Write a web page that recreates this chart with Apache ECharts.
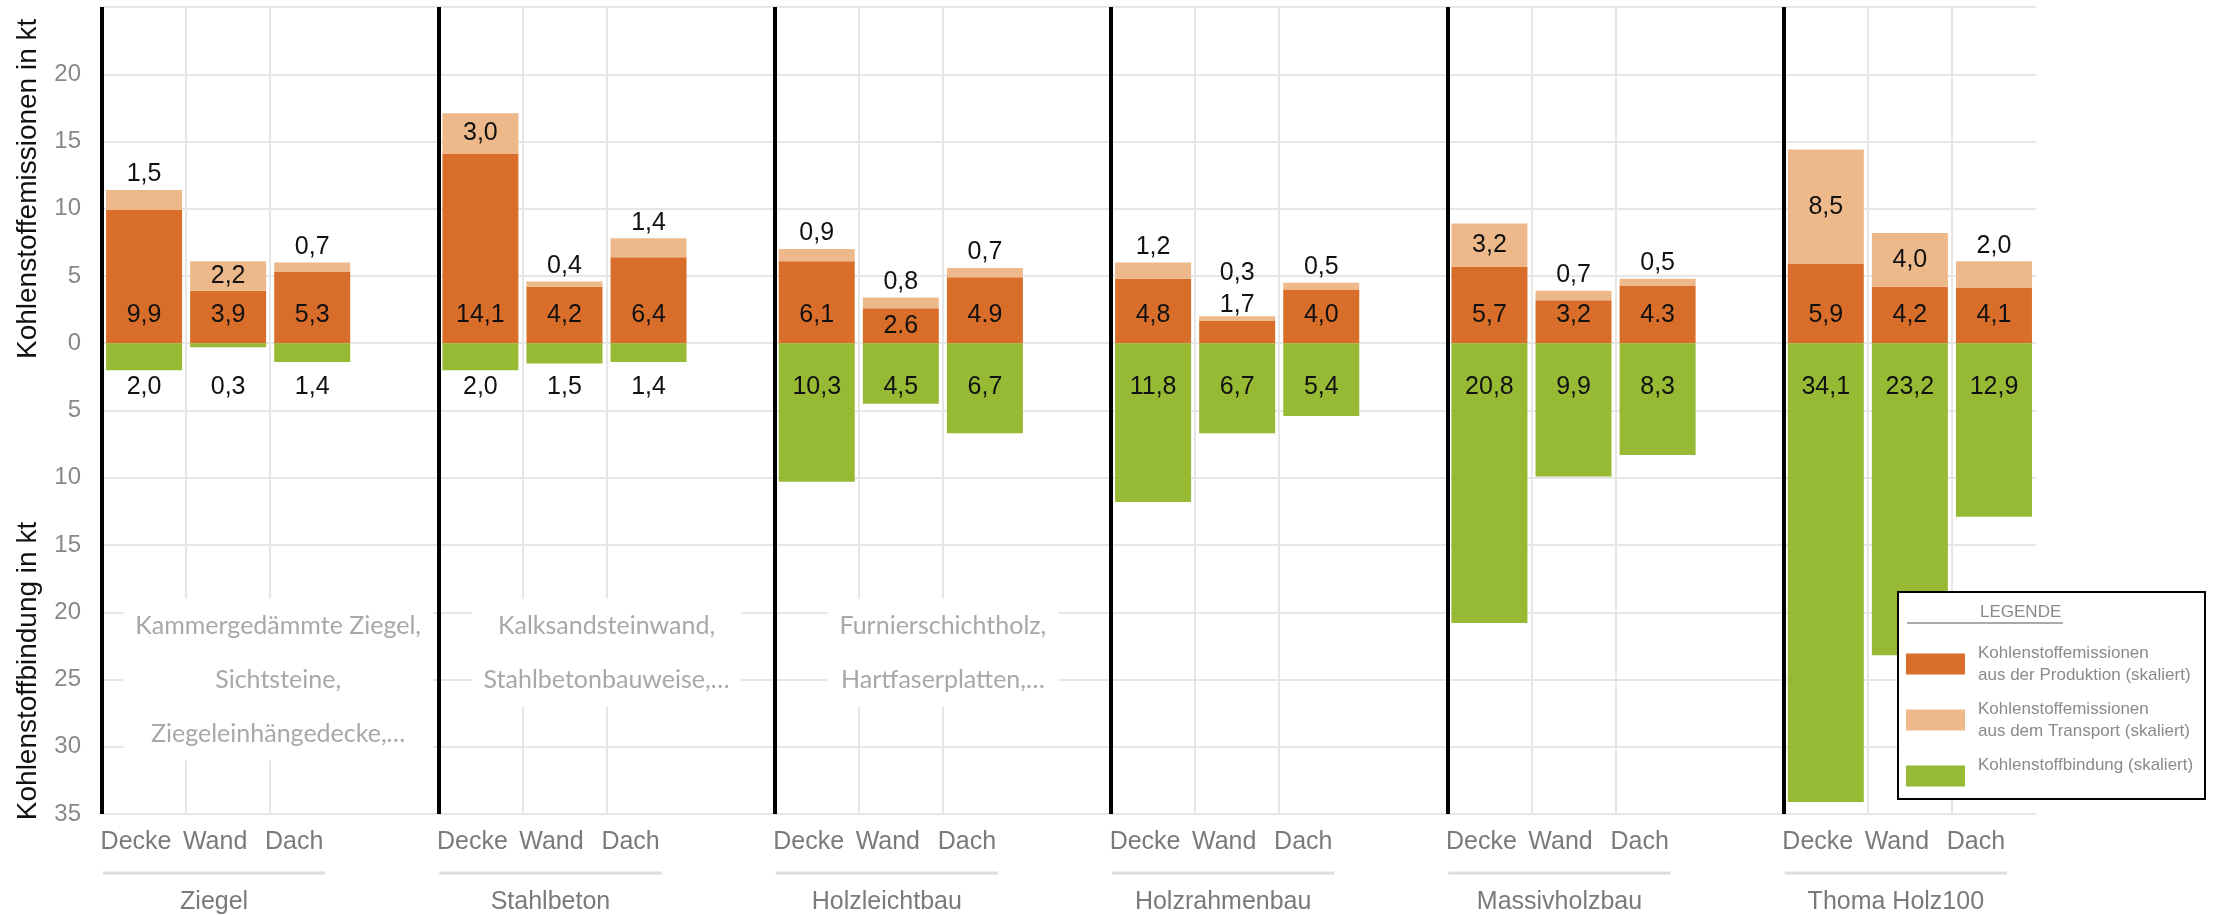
<!DOCTYPE html>
<html>
<head>
<meta charset="utf-8">
<script src="https://cdn.jsdelivr.net/npm/echarts@6/dist/echarts.min.js"></script>
<style>
html,body{margin:0;padding:0;background:#fff;}
#c{width:2213px;height:915px;}
</style>
</head>
<body>
<div id="c"></div>
<script>
// ---- data ----
const groups = ['Ziegel', 'Stahlbeton', 'Holzleichtbau', 'Holzrahmenbau', 'Massivholzbau', 'Thoma Holz100'];
const parts = ['Decke', 'Wand', 'Dach'];
const production = [9.9, 3.9, 5.3, 14.1, 4.2, 6.4, 6.1, 2.6, 4.9, 4.8, 1.7, 4.0, 5.7, 3.2, 4.3, 5.9, 4.2, 4.1];
const transport = [1.5, 2.2, 0.7, 3.0, 0.4, 1.4, 0.9, 0.8, 0.7, 1.2, 0.3, 0.5, 3.2, 0.7, 0.5, 8.5, 4.0, 2.0];
const binding = [2.0, 0.3, 1.4, 2.0, 1.5, 1.4, 10.3, 4.5, 6.7, 11.8, 6.7, 5.4, 20.8, 9.9, 8.3, 34.1, 23.2, 12.9];
const productionLabels = ['9,9', '3,9', '5,3', '14,1', '4,2', '6,4', '6,1', '2.6', '4.9', '4,8', '1,7', '4,0', '5,7', '3,2', '4.3', '5,9', '4,2', '4,1'];
const seriesNames = [
  'Kohlenstoffemissionen\naus der Produktion (skaliert)',
  'Kohlenstoffemissionen\naus dem Transport (skaliert)',
  'Kohlenstoffbindung (skaliert)'
];
const notes = [
  ['Kammergedämmte Ziegel,', 'Sichtsteine,', 'Ziegeleinhängedecke,…'],
  ['Kalksandsteinwand,', 'Stahlbetonbauweise,…'],
  ['Furnierschichtholz,', 'Hartfaserplatten,…']
];
const yTitles = ['Kohlenstoffemissionen in kt', 'Kohlenstoffbindung in kt'];
const legendTitle = 'LEGENDE';

// ---- styles ----
const COL = ['#D96E2A', '#EDB88A', '#97BA34'];
const FONT = 'Liberation Sans';
const prodLabelStyle = { 7: { position: 'inside' }, 10: { position: 'top', distance: 3 } };
const transLabelStyle = { 10: { offset: [0, -28] } };

// ---- build categories ----
const categories = [];
const catToK = [];
let kk = 0;
groups.forEach((g, gi) => {
  parts.forEach((p) => { catToK[categories.length] = kk++; categories.push(g + '|' + p); });
  if (gi < groups.length - 1) { categories.push(g + '|'); }
});
function expand(arr, fn) {
  const out = []; let k = 0;
  categories.forEach(c => {
    if (c.split('|')[1]) { out.push(fn(arr[k], k)); k++; } else { out.push('-'); }
  });
  return out;
}
const fmt = v => Math.abs(v).toFixed(1).replace('.', ',');

const labelBase = { show: true, color: '#111', fontSize: 25, fontFamily: FONT };

const option = {
  animation: false,
  backgroundColor: '#ffffff',
  textStyle: { fontFamily: FONT },
  grid: { left: 102, right: 177, top: 7, bottom: 101 },
  legend: {
    orient: 'vertical', left: 1906, top: 626, padding: 0,
    itemWidth: 59, itemHeight: 21, itemGap: -20, icon: 'rect', selectedMode: false,
    formatter: n => (n === seriesNames[2] ? n + '\n ' : n),
    textStyle: { fontSize: 17, color: '#8a8a8a', lineHeight: 22, padding: [32, 0, 0, 8], fontFamily: FONT },
    data: seriesNames
  },
  xAxis: [
    {
      type: 'category', data: categories, boundaryGap: true,
      axisLine: { show: false }, axisTick: { show: false },
      axisLabel: {
        interval: 0, margin: 16,
        formatter: v => { const p = v.split('|')[1]; if (!p) return ''; return '{p' + parts.indexOf(p) + '|' + p + '}'; },
        rich: {
          p0: { fontSize: 25, color: '#7a7a7a', fontFamily: FONT, padding: [0, 16, 0, 0] },
          p1: { fontSize: 25, color: '#7a7a7a', fontFamily: FONT, padding: [0, 26, 0, 0] },
          p2: { fontSize: 25, color: '#7a7a7a', fontFamily: FONT, padding: [0, 36, 0, 0] }
        }
      },
      splitLine: { show: true, showMaxLine: false, interval: (i) => (i % 4 === 1 || i % 4 === 2), lineStyle: { color: '#e6e6e6', width: 2 } }
    },
    {
      type: 'category', data: categories, boundaryGap: true, position: 'top', z: 1,
      axisLine: { show: false }, axisTick: { show: false }, axisLabel: { show: false },
      splitLine: { show: true, showMaxLine: false, interval: (i) => (i % 4 === 0), lineStyle: { color: '#000', width: 4 } }
    }
  ],
  yAxis: {
    type: 'value', min: -35, max: 25, interval: 5,
    axisLine: { show: false }, axisTick: { show: false },
    axisLabel: { margin: 21, fontSize: 24, color: '#888', fontFamily: FONT, formatter: v => (v === 25 ? '' : String(Math.abs(v))) },
    splitLine: { show: true, lineStyle: { color: '#e6e6e6', width: 2 } }
  },
  series: [
    {
      name: seriesNames[0], type: 'bar', stack: 'total', barWidth: 76, xAxisIndex: 0,
      itemStyle: { color: COL[0] },
      label: Object.assign({}, labelBase, { position: 'insideBottom', distance: 16, formatter: p => productionLabels[catToK[p.dataIndex]] }),
      data: expand(production, (v, k) => { const o = { value: v }; if (prodLabelStyle[k]) o.label = prodLabelStyle[k]; return o; })
    },
    {
      name: seriesNames[1], type: 'bar', stack: 'total', barWidth: 76, xAxisIndex: 0,
      itemStyle: { color: COL[1] },
      label: Object.assign({}, labelBase, { distance: 3, formatter: p => fmt(p.value) }),
      data: expand(transport, (v, k) => ({ value: v, label: Object.assign({ position: v > 2.05 ? 'inside' : 'top' }, transLabelStyle[k] || {}) }))
    },
    {
      name: seriesNames[2], type: 'bar', stack: 'total', barWidth: 76, xAxisIndex: 0,
      itemStyle: { color: COL[2] },
      label: Object.assign({}, labelBase, { position: 'insideTop', distance: 31, formatter: p => fmt(p.value) }),
      data: expand(binding, (v) => ({ value: -v }))
    }
  ]
};

const chart = echarts.init(document.getElementById('c'), null, { renderer: 'canvas' });
chart.setOption(option);

// ---- overlays positioned through the axes ----
const gx = c => chart.convertToPixel({ xAxisIndex: 0 }, c);
const gy = v => chart.convertToPixel({ yAxisIndex: 0 }, v);
const band = gx(categories[1]) - gx(categories[0]);
const bottomY = gy(-35);
const els = [];

// y-axis titles
els.push({ type: 'text', x: 28, y: (gy(25) + gy(-1)) / 2 + 7, rotation: Math.PI / 2, z: 5,
  style: { text: yTitles[0], fontSize: 28, fontFamily: FONT, fill: '#111', align: 'center', verticalAlign: 'middle' } });
els.push({ type: 'text', x: 28, y: 671, rotation: Math.PI / 2, z: 5,
  style: { text: yTitles[1], fontSize: 28, fontFamily: FONT, fill: '#111', align: 'center', verticalAlign: 'middle' } });

// notes inside groups
notes.forEach((lines, gi) => {
  const cx = gx(groups[gi] + '|Dach') - band / 2 + (gi === 0 ? 8 : 0);
  els.push({ type: 'text', x: cx, y: gy(-21) - 27, z: 1,
    style: { text: lines.join('\n'), fontSize: 25, fontFamily: 'Lato', fill: '#a8a8a8', lineHeight: 54,
      align: 'center', verticalAlign: 'top', backgroundColor: '#ffffff', padding: [0, 12] } });
});

// group labels with underline
groups.forEach((g) => {
  const x1 = gx(g + '|Decke') - band / 2 + 1;
  const x2 = gx(g + '|Dach') + 13;
  els.push({ type: 'line', z: 1, shape: { x1: x1, y1: bottomY + 59, x2: x2, y2: bottomY + 59 }, style: { stroke: '#dddddd', lineWidth: 3 } });
  els.push({ type: 'text', x: (x1 + x2) / 2, y: bottomY + 88, z: 1,
    style: { text: g, fontSize: 25, fontFamily: FONT, fill: '#7a7a7a', align: 'center', verticalAlign: 'middle' } });
});

// legend frame and title
els.push({ type: 'rect', z: 3, shape: { x: 1898, y: 592, width: 307, height: 207 }, style: { fill: '#ffffff', stroke: '#000', lineWidth: 2 } });
els.push({ type: 'text', z: 5, x: 1980, y: 612, style: { text: legendTitle, fontSize: 17, fontFamily: FONT, fill: '#8a8a8a', align: 'left', verticalAlign: 'middle' } });
els.push({ type: 'line', z: 5, shape: { x1: 1907, y1: 623, x2: 2063, y2: 623 }, style: { stroke: '#aaaaaa', lineWidth: 2 } });

chart.setOption({ graphic: { elements: els } });
</script>
</body>
</html>
